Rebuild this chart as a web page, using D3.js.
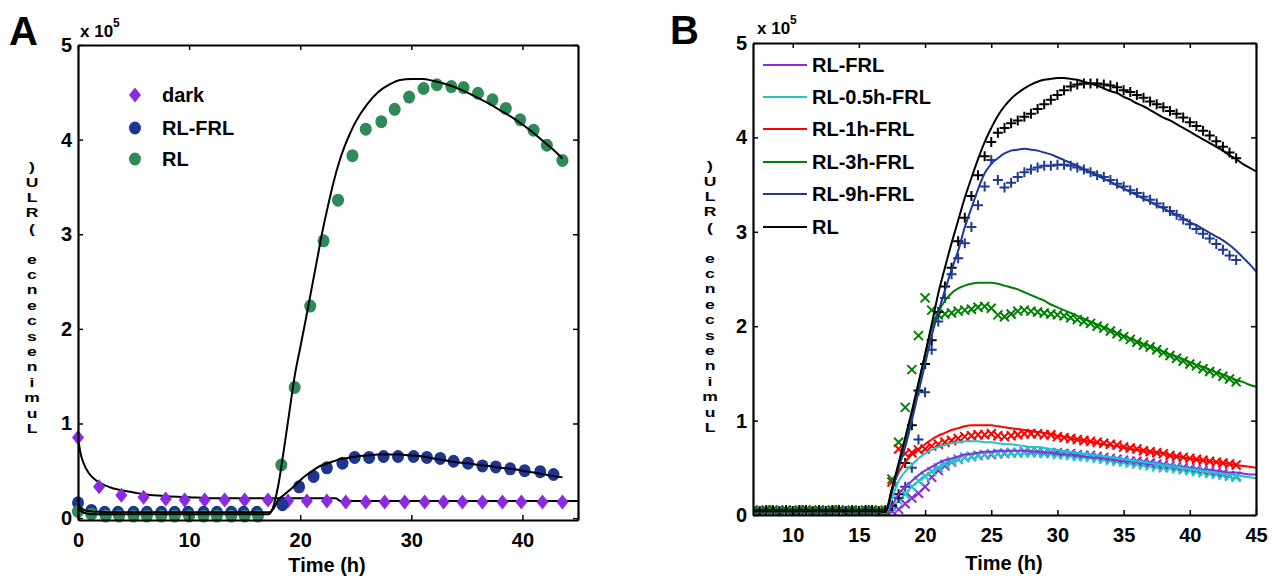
<!DOCTYPE html>
<html>
<head>
<meta charset="utf-8">
<script src="https://d3js.org/d3.v7.min.js"></script>
<style>
  body { margin: 0; background: #fff; }
  svg text { font-family: "Liberation Sans", Arial, sans-serif; font-weight: bold; }
</style>
</head>
<body>
<div id="viz"></div>
<script>
// ---------- panel A data (x 10^5) ----------
var darkT = [0,1.9,3.9,5.9,7.9,9.6,11.4,13.2,15,17.1,18.9,20.6,22.4,24.1,25.9,27.6,29.4,31.2,32.9,34.6,36.4,38.2,39.9,41.8,43.6];
var darkV = [0.85,0.33,0.24,0.22,0.2,0.19,0.19,0.19,0.19,0.19,0.18,0.18,0.18,0.17,0.17,0.17,0.17,0.17,0.17,0.17,0.17,0.17,0.17,0.17,0.17];

var rlfrlT = [0,1.2,2.4,3.6,5,6.2,7.5,8.7,9.9,11.3,12.5,13.8,14.9,16.1,18.4,19.9,21.2,22.4,23.8,24.9,26.2,27.5,28.8,30.2,31.4,32.6,33.8,35.1,36.4,37.6,38.9,40.2,41.6,42.8];
var rlfrlV = [0.16,0.08,0.06,0.06,0.06,0.06,0.06,0.06,0.06,0.06,0.06,0.06,0.06,0.06,0.14,0.33,0.44,0.53,0.58,0.64,0.64,0.65,0.65,0.65,0.64,0.63,0.6,0.58,0.55,0.54,0.52,0.5,0.49,0.46];

var rlT = [0,1.2,2.5,3.7,5,6.2,7.5,8.7,10,11.3,12.5,13.8,15,16.2,18.3,19.5,20.9,22.1,23.4,24.7,25.9,27.3,28.5,29.8,31.1,32.3,33.6,34.7,36,37.3,38.5,39.8,41,42.2,43.6];
var rlV = [0.07,0.04,0.02,0.02,0.02,0.02,0.02,0.02,0.02,0.02,0.02,0.02,0.02,0.02,0.56,1.38,2.24,2.93,3.36,3.83,4.11,4.19,4.32,4.45,4.54,4.58,4.56,4.55,4.49,4.42,4.33,4.21,4.1,3.94,3.78];

// model fits, panel A
var darkFitT = [0,0.2,0.5,1,1.5,2,3,4,5,6,8,10,12,14,16,18,20,22,23.2,23.6,26,30,35,40,45];
var darkFitV = [0.86,0.7,0.58,0.47,0.41,0.37,0.32,0.29,0.27,0.25,0.23,0.22,0.21,0.21,0.21,0.21,0.21,0.21,0.21,0.18,0.18,0.18,0.18,0.18,0.18];
var fitT = [0,0.3,0.7,1.2,2,3,5,8,12,16,17.2,17.6,18,18.5,19,19.5,20,20.5,21,21.5,22,22.5,23,23.5,24,24.5,25,26,27,28,29,30,31,32,33,34,35,36,37,38,39,40,41,42,43,43.6];
var rlfrlFit = [0.15,0.1,0.08,0.07,0.065,0.06,0.06,0.06,0.06,0.06,0.06,0.1,0.19,0.24,0.29,0.34,0.4,0.45,0.49,0.53,0.56,0.58,0.6,0.62,0.63,0.64,0.65,0.66,0.67,0.67,0.67,0.66,0.65,0.63,0.61,0.59,0.58,0.56,0.55,0.53,0.52,0.5,0.48,0.46,0.44,0.43];
var rlFit = [0.1,0.07,0.05,0.04,0.04,0.04,0.04,0.04,0.04,0.04,0.04,0.13,0.33,0.7,1.1,1.5,1.8,2.1,2.41,2.72,3.03,3.3,3.55,3.76,3.93,4.07,4.19,4.37,4.5,4.58,4.63,4.64,4.64,4.62,4.59,4.55,4.5,4.44,4.38,4.31,4.24,4.16,4.07,3.97,3.87,3.8];

// ---------- panel B data (x 10^5) ----------
var tB = [7,7.5,8,8.5,9,9.5,10,10.5,11,11.5,12,12.5,13,13.5,14,14.5,15,15.5,16,16.5,
  17,17.5,18,18.5,19,19.5,20,20.5,21,21.5,22,22.5,23,23.5,24,24.5,25,25.5,26,26.5,
  27,27.5,28,28.5,29,29.5,30,30.5,31,31.5,32,32.5,33,33.5,34,34.5,35,35.5,36,36.5,
  37,37.5,38,38.5,39,39.5,40,40.5,41,41.5,42,42.5,43,43.5];
var tBFit = [7,7.5,8,8.5,9,9.5,10,10.5,11,11.5,12,12.5,13,13.5,14,14.5,15,15.5,16,16.5,
  17,17.5,18,18.5,19,19.5,20,20.5,21,21.5,22,22.5,23,23.5,24,24.5,25,25.5,26,26.5,
  27,27.5,28,28.5,29,29.5,30,30.5,31,31.5,32,32.5,33,33.5,34,34.5,35,35.5,36,36.5,
  37,37.5,38,38.5,39,39.5,40,40.5,41,41.5,42,42.5,43,43.5,44,44.5,45];
// dark period before light-on (7-16.5 h)
var baseMk = [0.05,0.04,0.05,0.05,0.04,0.05,0.04,0.05,0.05,0.04,0.05,0.04,0.05,0.05,0.04,0.05,0.04,0.05,0.05,0.04];
var baseFit = [0.04,0.04,0.04,0.04,0.04,0.04,0.04,0.04,0.04,0.04,0.04,0.04,0.04,0.04,0.04,0.04,0.04,0.04,0.04,0.04];

var seriesNames = ["RL-FRL","RL-0.5h-FRL","RL-1h-FRL","RL-3h-FRL","RL-9h-FRL","RL"];
var seriesColors = ["#8a2be2","#22c4c4","#ff0000","#008000","#1f3a93","#000000"];
var seriesMarks = ["x","x","x","x","+","+"];

var mkFrom17 = [
  [0.03,0.04,0.06,0.12,0.18,0.23,0.3,0.4,0.47,0.52,0.56,0.59,0.61,0.62,0.63,0.64,0.64,0.65,0.65,0.66,0.66,0.67,0.67,0.67,0.66,0.66,0.66,0.65,0.65,0.64,0.63,0.63,0.62,0.61,0.6,0.59,0.58,0.57,0.57,0.56,0.55,0.54,0.53,0.52,0.51,0.5,0.49,0.48,0.47,0.46,0.45,0.44,0.42,0.41],
  [0.03,0.08,0.15,0.22,0.3,0.36,0.41,0.46,0.5,0.54,0.57,0.59,0.61,0.62,0.63,0.64,0.65,0.65,0.66,0.66,0.66,0.66,0.66,0.66,0.65,0.65,0.64,0.64,0.63,0.62,0.62,0.61,0.6,0.59,0.58,0.57,0.56,0.55,0.54,0.53,0.52,0.51,0.5,0.5,0.49,0.48,0.47,0.46,0.45,0.44,0.43,0.42,0.41,0.4],
  [0.05,0.35,0.7,0.65,0.66,0.69,0.7,0.73,0.75,0.77,0.79,0.81,0.83,0.84,0.85,0.85,0.86,0.84,0.83,0.84,0.85,0.86,0.86,0.86,0.85,0.85,0.83,0.82,0.81,0.8,0.79,0.78,0.77,0.76,0.75,0.74,0.72,0.71,0.7,0.68,0.67,0.66,0.65,0.63,0.62,0.61,0.6,0.59,0.58,0.57,0.56,0.55,0.54,0.53],
  [0.05,0.38,0.77,1.14,1.54,1.9,2.3,2.17,2.12,2.13,2.14,2.16,2.17,2.18,2.2,2.21,2.19,2.12,2.1,2.13,2.16,2.17,2.16,2.15,2.14,2.13,2.12,2.11,2.09,2.07,2.05,2.03,2.0,1.98,1.95,1.92,1.89,1.86,1.83,1.8,1.78,1.75,1.72,1.69,1.66,1.63,1.6,1.58,1.55,1.52,1.5,1.47,1.44,1.41],
  [0.05,0.1,0.18,0.3,0.5,0.8,1.3,1.75,2.05,2.3,2.55,2.72,2.88,3.05,3.28,3.48,3.76,3.55,3.47,3.52,3.58,3.63,3.66,3.68,3.7,3.7,3.71,3.71,3.7,3.68,3.66,3.63,3.6,3.58,3.55,3.51,3.48,3.44,3.41,3.37,3.34,3.3,3.26,3.22,3.18,3.13,3.08,3.03,2.98,2.93,2.87,2.81,2.75,2.7],
  [0.05,0.1,0.22,0.55,0.95,1.32,1.6,1.85,2.15,2.42,2.62,2.9,3.15,3.38,3.6,3.8,3.95,4.05,4.1,4.15,4.18,4.22,4.25,4.3,4.35,4.4,4.45,4.5,4.54,4.56,4.57,4.57,4.57,4.56,4.55,4.53,4.5,4.48,4.45,4.42,4.38,4.35,4.32,4.28,4.25,4.21,4.16,4.12,4.07,4.02,3.96,3.9,3.84,3.78]
];
var fitFrom17 = [
  [0.02,0.1,0.22,0.3,0.36,0.42,0.47,0.51,0.55,0.58,0.6,0.62,0.64,0.65,0.66,0.67,0.67,0.68,0.68,0.68,0.68,0.68,0.67,0.67,0.66,0.66,0.65,0.64,0.64,0.63,0.62,0.61,0.61,0.6,0.59,0.58,0.57,0.57,0.56,0.55,0.54,0.54,0.53,0.52,0.51,0.51,0.5,0.49,0.48,0.48,0.47,0.46,0.45,0.45,0.44,0.43,0.43],
  [0.02,0.18,0.36,0.46,0.53,0.6,0.65,0.69,0.72,0.74,0.76,0.77,0.78,0.78,0.78,0.77,0.77,0.76,0.75,0.75,0.74,0.73,0.72,0.72,0.71,0.7,0.69,0.68,0.67,0.66,0.65,0.64,0.63,0.62,0.61,0.6,0.59,0.58,0.57,0.56,0.55,0.54,0.53,0.52,0.51,0.5,0.49,0.48,0.47,0.46,0.45,0.44,0.43,0.42,0.41,0.4,0.39],
  [0.03,0.28,0.45,0.56,0.64,0.7,0.75,0.8,0.84,0.87,0.9,0.92,0.94,0.95,0.95,0.95,0.95,0.94,0.93,0.92,0.91,0.9,0.89,0.88,0.87,0.85,0.84,0.83,0.81,0.8,0.79,0.78,0.76,0.75,0.74,0.73,0.72,0.7,0.69,0.68,0.67,0.66,0.65,0.63,0.62,0.61,0.6,0.59,0.58,0.57,0.56,0.55,0.54,0.53,0.52,0.51,0.5],
  [0.03,0.25,0.5,0.75,1.05,1.38,1.7,1.98,2.15,2.27,2.35,2.4,2.43,2.45,2.46,2.46,2.46,2.45,2.43,2.41,2.39,2.36,2.33,2.3,2.27,2.23,2.2,2.17,2.14,2.11,2.08,2.05,2.02,1.99,1.96,1.93,1.9,1.87,1.84,1.81,1.79,1.76,1.73,1.7,1.68,1.65,1.62,1.59,1.57,1.54,1.51,1.49,1.46,1.43,1.41,1.38,1.36],
  [0.03,0.25,0.5,0.72,1.0,1.3,1.6,1.9,2.15,2.38,2.6,2.8,3.05,3.25,3.45,3.62,3.72,3.78,3.83,3.86,3.87,3.88,3.87,3.86,3.84,3.82,3.79,3.76,3.73,3.7,3.66,3.63,3.6,3.56,3.53,3.49,3.46,3.42,3.39,3.35,3.32,3.28,3.25,3.21,3.18,3.14,3.1,3.07,3.03,2.99,2.95,2.91,2.86,2.8,2.73,2.66,2.58],
  [0.03,0.28,0.55,0.82,1.1,1.4,1.7,2.02,2.35,2.62,2.88,3.12,3.36,3.57,3.77,3.95,4.1,4.23,4.33,4.41,4.47,4.52,4.56,4.59,4.61,4.62,4.63,4.63,4.62,4.61,4.59,4.57,4.55,4.52,4.49,4.47,4.43,4.4,4.36,4.33,4.29,4.25,4.21,4.18,4.14,4.1,4.06,4.02,3.98,3.94,3.9,3.86,3.81,3.77,3.72,3.68,3.64]
];

var ticksA = [0,10,20,30,40];
var ticksB = [10,15,20,25,30,35,40,45];
var ticksY = [0,1,2,3,4,5];

// ---------- drawing ----------
var svg = d3.select("#viz").append("svg")
    .attr("width", 1273)
    .attr("height", 579);

function frame(x, y, xticks) {
    var x0 = x.range()[0], x1 = x.range()[1], y0 = y.range()[0], y1 = y.range()[1];
    var g = svg.append("g");
    g.append("g").attr("transform", "translate(0," + y0 + ")")
        .call(d3.axisBottom(x).tickValues(xticks).tickFormat(d3.format("d"))
            .tickSize(-5).tickSizeOuter(0).tickPadding(13));
    g.append("g").attr("transform", "translate(" + x0 + ",0)")
        .call(d3.axisLeft(y).tickValues(ticksY).tickFormat(d3.format("d"))
            .tickSize(-5).tickSizeOuter(0).tickPadding(6));
    g.append("g").attr("transform", "translate(0," + y1 + ")")
        .call(d3.axisTop(x).tickValues(xticks).tickSize(-5).tickSizeOuter(0).tickFormat(""));
    g.append("g").attr("transform", "translate(" + x1 + ",0)")
        .call(d3.axisRight(y).tickValues(ticksY).tickSize(-5).tickSizeOuter(0).tickFormat(""));
    g.selectAll(".domain").attr("stroke", "#000").attr("stroke-width", 2.2);
    g.selectAll(".tick line").attr("stroke", "#000").attr("stroke-width", 1.5);
    g.selectAll("g").attr("font-family", null).attr("font-size", null);
    g.selectAll(".tick text").attr("fill", "#000").style("font-size", "20px");
    return g;
}

function multiplier(xp, yp) {
    var t = svg.append("text").attr("x", xp).attr("y", yp).style("font-size", "17px");
    t.append("tspan").text("x 10");
    t.append("tspan").attr("dy", -10).style("font-size", "12px").text("5");
}

// MATLAB-style stacked label: upright letters, read from the bottom up
function yLabel(xp, ybottom) {
    var chars = "Luminescence (RLU)".split("");
    svg.append("text")
        .attr("text-anchor", "middle")
        .attr("transform", "translate(" + xp + ",0) scale(1.3,1) translate(" + (-xp) + ",0)")
        .style("font-size", "13.5px")
        .selectAll("tspan").data(chars).enter().append("tspan")
        .attr("x", xp)
        .attr("y", function(d, i) { return ybottom - i * 15.4; })
        .text(function(d) { return d; });
}

function xLabel(xp, yp) {
    svg.append("text").attr("x", xp).attr("y", yp).attr("text-anchor", "middle")
        .style("font-size", "20px").text("Time (h)");
}

// ===== panel A =====
var xA = d3.scaleLinear().domain([0, 45]).range([78, 578]);
var yA = d3.scaleLinear().domain([0, 5]).range([518, 45]);
// box bottom sits a touch below zero
var yAbox = d3.scaleLinear().domain([-0.02, 5]).range([520, 45]);

var lineA = d3.line().x(function(d) { return xA(d[0]); }).y(function(d) { return yA(d[1]); })
    .curve(d3.curveMonotoneX);

var gA = svg.append("g");
gA.append("path").datum(d3.zip(darkFitT, darkFitV)).attr("d", lineA)
    .attr("fill", "none").attr("stroke", "#000").attr("stroke-width", 2);

gA.selectAll(".dark").data(d3.zip(darkT, darkV)).enter().append("path")
    .attr("d", "M0,-7.5L6,0L0,7.5L-6,0Z")
    .attr("transform", function(d) { return "translate(" + xA(d[0]) + "," + yA(d[1]) + ")"; })
    .attr("fill", "#8a2be2");
gA.selectAll(".rlfrl").data(d3.zip(rlfrlT, rlfrlV)).enter().append("ellipse")
    .attr("cx", function(d) { return xA(d[0]); })
    .attr("cy", function(d) { return yA(d[1]); })
    .attr("rx", 6).attr("ry", 6.5)
    .attr("fill", "#1f3590");
gA.selectAll(".rl").data(d3.zip(rlT, rlV)).enter().append("ellipse")
    .attr("cx", function(d) { return xA(d[0]); })
    .attr("cy", function(d) { return yA(d[1]); })
    .attr("rx", 6).attr("ry", 6.5)
    .attr("fill", "#2e8b57");

[rlfrlFit, rlFit].forEach(function(v) {
    gA.append("path").datum(d3.zip(fitT, v)).attr("d", lineA)
        .attr("fill", "none").attr("stroke", "#000").attr("stroke-width", 2);
});

frame(xA, yAbox, ticksA);
multiplier(80, 37);
yLabel(32, 433);
xLabel(327, 572);
svg.append("text").attr("x", 9).attr("y", 45).style("font-size", "40px").text("A");

// legend A
var legA = [
    {name: "dark", color: "#8a2be2", shape: "diamond"},
    {name: "RL-FRL", color: "#1f3590", shape: "circle"},
    {name: "RL", color: "#2e8b57", shape: "circle"}
];
var legARows = [95, 128, 159];
legA.forEach(function(d, i) {
    if (d.shape == "diamond") {
        svg.append("path").attr("d", "M0,-7.5L6,0L0,7.5L-6,0Z")
            .attr("transform", "translate(135," + legARows[i] + ")").attr("fill", d.color);
    } else {
        svg.append("ellipse").attr("cx", 135).attr("cy", legARows[i])
            .attr("rx", 6).attr("ry", 6.5).attr("fill", d.color);
    }
    svg.append("text").attr("x", 162).attr("y", legARows[i]).attr("dy", "0.36em")
        .style("font-size", "20px").text(d.name);
});

// ===== panel B =====
var xB = d3.scaleLinear().domain([7, 45]).range([753, 1256]);
var yB = d3.scaleLinear().domain([0, 5]).range([515, 43]);

svg.append("clipPath").attr("id", "clipB").append("rect")
    .attr("x", 754).attr("y", 43).attr("width", 502).attr("height", 472);

var lineB = d3.line().x(function(d) { return xB(d[0]); }).y(function(d) { return yB(d[1]); })
    .curve(d3.curveMonotoneX);

var gB = svg.append("g").attr("clip-path", "url(#clipB)");
var marks = {
    "x": "M-4.5,-4.5L4.5,4.5M-4.5,4.5L4.5,-4.5",
    "+": "M-5,0H5M0,-5V5"
};
seriesNames.forEach(function(name, i) {
    var pts = d3.zip(tB, baseMk.concat(mkFrom17[i]));
    gB.append("g").selectAll("path").data(pts).enter().append("path")
        .attr("d", marks[seriesMarks[i]])
        .attr("transform", function(d) { return "translate(" + xB(d[0]) + "," + yB(d[1]) + ")"; })
        .attr("stroke", seriesColors[i]).attr("stroke-width", 2).attr("fill", "none");
});
seriesNames.forEach(function(name, i) {
    gB.append("path").datum(d3.zip(tBFit, baseFit.concat(fitFrom17[i]))).attr("d", lineB)
        .attr("fill", "none").attr("stroke", seriesColors[i]).attr("stroke-width", 2);
});

frame(xB, yB, ticksB);
multiplier(757, 34);
yLabel(710, 432);
xLabel(1004, 570);
svg.append("text").attr("x", 670).attr("y", 44).style("font-size", "40px").text("B");

// legend B
var legBRows = [65, 97, 129, 162, 194, 227];
seriesNames.forEach(function(name, i) {
    svg.append("line").attr("x1", 763).attr("x2", 807)
        .attr("y1", legBRows[i]).attr("y2", legBRows[i])
        .attr("stroke", seriesColors[i]).attr("stroke-width", 2);
    svg.append("text").attr("x", 812).attr("y", legBRows[i]).attr("dy", "0.36em")
        .style("font-size", "20px").text(name);
});
</script>
</body>
</html>
